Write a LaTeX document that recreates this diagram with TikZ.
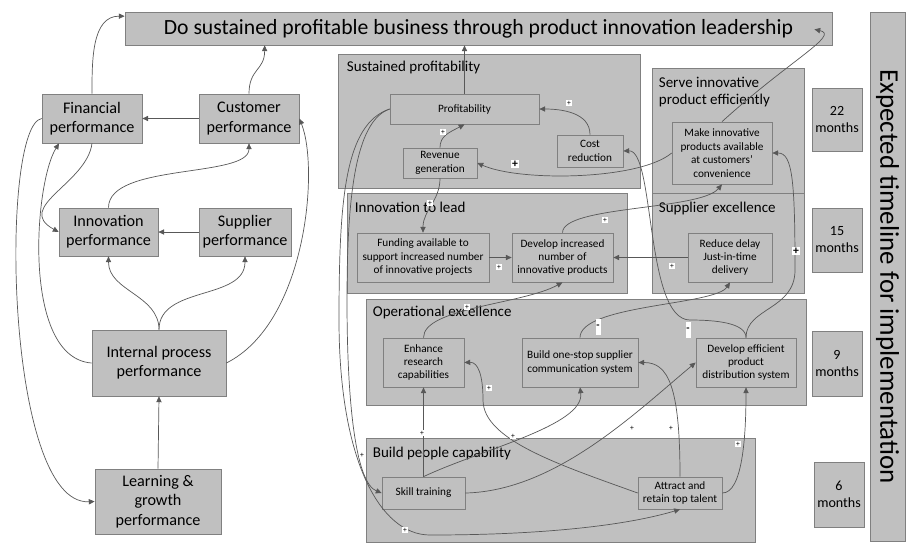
\documentclass[tikz,border=0pt]{standalone}
\usepackage{fontspec}
\setmainfont{Carlito}
\usetikzlibrary{arrows.meta,calc}

\definecolor{boxgray}{RGB}{192,192,192}
\definecolor{edgegray}{RGB}{128,128,128}
\definecolor{linegray}{RGB}{88,88,88}

\begin{document}
\begin{tikzpicture}[x=0.03cm,y=-0.03cm,
    wh/.style 2 args={minimum width=#1*0.03cm,minimum height=#2*0.03cm},
    box/.style={draw=edgegray,fill=boxgray,line width=0.6pt,inner sep=1pt,align=center},
    bsc/.style={box,font=\fontsize{13.8}{16.5}\selectfont},
    obj/.style={box,font=\fontsize{9.6}{11.5}\selectfont},
    month/.style={box,font=\fontsize{12}{14.5}\selectfont},
    grptitle/.style={anchor=north west,inner sep=0pt,align=left,font=\fontsize{12.8}{15}\selectfont},
    conn/.style={draw=linegray,line width=0.6pt,-{Triangle[length=5pt,width=4.5pt]}},
    plus/.style={fill=white,inner sep=0.6pt,font=\fontsize{6.5}{6.5}\selectfont},
    bigplus/.style={fill=white,inner sep=1pt,font=\fontsize{10}{10}\selectfont\bfseries},
    minus/.style={fill=white,inner sep=0pt,wh={5}{16},font=\fontsize{9}{9}\selectfont\bfseries}]
\useasboundingbox (0,0) rectangle (907,549);

\node[box,wh={707}{33},font=\fontsize{18.5}{20}\selectfont] (title) at (478.5,28.5)
    {Do sustained profitable business through product innovation leadership};
\node[box,wh={529}{35},rotate=-90,font=\fontsize{23}{25}\selectfont] (timeline) at (887.5,276.5)
    {Expected timeline for implementation};
\node[month,wh={50}{63}] (m22) at (837,119.5) {22\\months};
\node[month,wh={50}{64}] (m15) at (837,240)   {15\\months};
\node[month,wh={50}{65}] (m9)  at (837,363.5) {9\\months};
\node[month,wh={50}{65}] (m6)  at (839,494.5) {6\\months};

\node[bsc,wh={100}{49}] (fin)     at (92,118.5)  {Financial\\performance};
\node[bsc,wh={100}{49}] (cust)    at (249,118.5) {Customer\\performance};
\node[bsc,wh={99}{48}]  (innov)   at (108.5,232) {Innovation\\performance};
\node[bsc,wh={92}{48}]  (supp)    at (245,232)   {Supplier\\performance};
\node[bsc,wh={134}{66}] (intproc) at (159,363)   {Internal process\\performance};
\node[bsc,wh={126}{65}] (learn)   at (158,501.5) {Learning \&\\growth\\performance};

\node[box,wh={302}{134}] (gprof)   at (489,121)   {};
\node[box,wh={152}{125}] (gserve)  at (728,130.5) {};
\node[box,wh={152}{100}] (gsupp)   at (728,243)   {};
\node[box,wh={280}{100}] (ginnov)  at (487,243)   {};
\node[box,wh={440}{106}] (goper)   at (586,352)   {};
\node[box,wh={389}{104}] (gpeople) at (560.5,490) {};
\node[grptitle] (tprof)   at ($(gprof.north west)+(9,7)$)   {Sustained profitability};
\node[grptitle] (tserve)  at ($(gserve.north west)+(7,9)$)  {Serve innovative\\product efficiently};
\node[grptitle] (tinnov)  at ($(ginnov.north west)+(8,9)$)  {Innovation to lead};
\node[grptitle] (tsupp)   at ($(gsupp.north west)+(7,9)$)   {Supplier excellence};
\node[grptitle] (toper)   at ($(goper.north west)+(7,7)$)   {Operational excellence};
\node[grptitle] (tpeople) at ($(gpeople.north west)+(7,9)$) {Build people capability};

\node[obj,wh={149}{30}] (profit)   at (464.5,109)   {Profitability};
\node[obj,wh={74}{30}]  (revenue)  at (440,163)     {Revenue\\generation};
\node[obj,wh={66}{32}]  (cost)     at (590,151)     {Cost\\reduction};
\node[obj,wh={100}{62}] (avail)    at (722,153)     {Make innovative\\products available\\at customers'\\convenience};
\node[obj,wh={132}{49}] (funding)  at (423,257.5)   {Funding available to\\support increased number\\of innovative projects};
\node[obj,wh={101}{49}] (develop)  at (562.5,257.5) {Develop increased\\number of\\innovative products};
\node[obj,wh={84}{49}]  (delay)    at (730,257.5)   {Reduce delay\\Just-in-time\\delivery};
\node[obj,wh={81}{49}]  (research) at (423.5,362.5) {Enhance\\research\\capabilities};
\node[obj,wh={116}{49}] (onestop)  at (580,362.5)   {Build one-stop supplier\\communication system};
\node[obj,wh={100}{49}] (distrib)  at (746,362.5)   {Develop efficient\\product\\distribution system};
\node[obj,wh={83}{32}]  (skill)    at (423.5,493)   {Skill training};
\node[obj,wh={84}{32}]  (talent)   at (680,493)     {Attract and\\retain top talent};

\draw[conn] (fin.north) to[out=90,in=180] (title.178.6);
\draw[conn] (cust.north) .. controls +(0,-25) and +(0,25) .. ($(title.south west)+(140,0)$);
\draw[conn] (cust.west) -- (fin.east);
\draw[conn] (fin.south) .. controls +(-5,40) and +(-45,-25) .. (innov.west);
\draw[conn] (innov.north) .. controls +(0,-45) and +(0,35) .. (cust.south);
\draw[conn] (supp.west) -- (innov.east);
\draw[conn] (intproc.north) to[out=90,in=-90] (innov.south);
\draw[conn] (intproc.north) to[out=90,in=-90] (supp.south);
\draw[conn] (intproc.west) .. controls +(-70,-5) and +(-25,40) .. (fin.217);
\draw[conn] (intproc.east) .. controls +(80,-40) and +(20,50) .. (cust.east);
\draw[conn] (fin.west) .. controls +(-42,7) and +(-90,4) .. (learn.west);
\draw[conn] (learn.north) -- (intproc.south);

\draw[conn] (profit.north) -- (profit.north |- title.south);
\draw[conn] (revenue.north) .. controls +(0,-12) and +(-15,8) .. (profit.south);
\draw[conn] (cost.north) to[out=90,in=0] (profit.east);
\draw[conn] (avail.west) .. controls +(-32,27) and +(43,19) .. (revenue.east);
\draw[conn] (distrib.north) .. controls +(0,-15) and +(25,0) .. (690,320)
    .. controls (645,320) and (655,150) .. (cost.east);
\draw[conn] (distrib.north) .. controls +(0,-30) and +(0,40) .. (795,270)
    .. controls +(0,-90) and +(20,0) .. (avail.east);
\draw[conn] (avail.north) .. controls (790,60) and (840,35) .. ($(title.south east)+(-18,-16)$);
\draw[conn] (revenue.south) to[out=-90,in=90] (funding.north);
\draw[conn] (funding.east) -- (develop.west);
\draw[conn] (delay.west) -- (develop.east);
\draw[conn] (develop.north) .. controls +(0,-27) and +(-22,26) .. (avail.south);
\draw[conn] (research.north) .. controls +(0,-30) and +(-40,22) .. (develop.south);
\draw[conn] (onestop.north) .. controls +(0,-33) and +(-15,23) .. (delay.south);
\draw[conn] (skill.north) -- (research.south);
\draw[conn] (skill.north) .. controls +(57,-27) and +(5,38) .. (onestop.south);
\draw[conn] (skill.east) .. controls +(90,-2) and +(-60,50) .. (distrib.west);
\draw[conn] (talent.west) .. controls (560,465) and (483,440) .. (483,400)
    .. controls (483,375) and (478,362) .. (research.east);
\draw[conn] (talent.north) .. controls +(0,-90) and +(30,0) .. (onestop.east);
\draw[conn] (talent.east) .. controls +(20,0) and +(0,50) .. (distrib.south);
\draw[conn] (profit.west) .. controls +(-35,12) and +(0,-100) .. (347,300)
    .. controls +(0,110) and +(-25,-10) .. (skill.west);
\draw[conn] (profit.west) .. controls +(-45,15) and +(0,-120) .. (339,320)
    .. controls +(0,140) and +(-50,0) .. (430,535)
    .. controls +(120,0) and +(-50,15) .. (talent.south);

\path
    (443,132) node[plus]    (sg1)  {+}
    (569,103) node[plus]    (sg2)  {+}
    (515,164) node[bigplus] (sg3)  {+}
    (430,203) node[plus]    (sg4)  {+}
    (499,267) node[plus]    (sg5)  {+}
    (672,266) node[plus]    (sg6)  {+}
    (605,220) node[plus]    (sg7)  {+}
    (796,251) node[bigplus] (sg8)  {+}
    (467,307) node[plus]    (sg9)  {+}
    (598,327) node[minus]   (sg10) {-}
    (688,330) node[minus]   (sg11) {-}
    (422,433) node[plus]    (sg12) {+}
    (513,436) node[plus]    (sg13) {+}
    (489,388) node[plus]    (sg14) {+}
    (632,428) node[plus]    (sg15) {+}
    (671,428) node[plus]    (sg16) {+}
    (738,444) node[plus]    (sg17) {+}
    (362,455) node[plus]    (sg18) {+}
    (405,530) node[plus]    (sg19) {+};
\end{tikzpicture}
\end{document}
